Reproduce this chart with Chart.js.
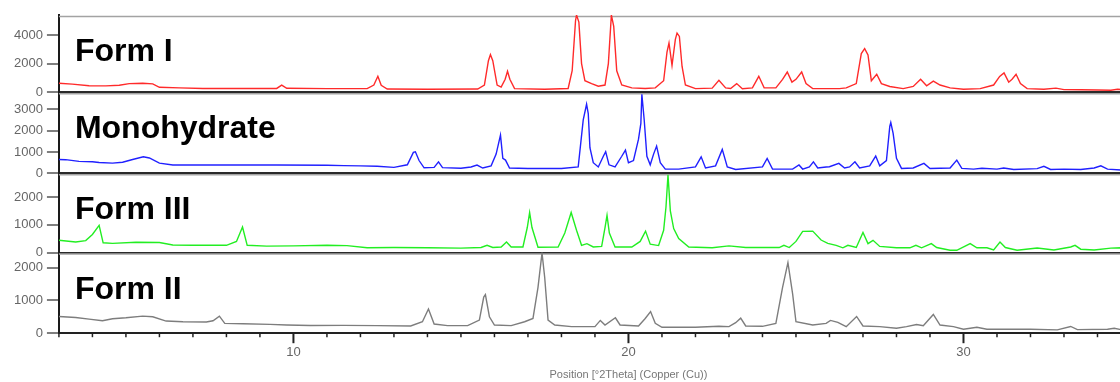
<!DOCTYPE html>
<html>
<head>
<meta charset="utf-8">
<title>XRPD patterns</title>
<script src="https://cdn.jsdelivr.net/npm/chart.js@4.4.1/dist/chart.umd.min.js"></script>
<style>
  html, body { margin: 0; padding: 0; background: #fff; overflow: hidden; }
  #wrap { width: 1200px; height: 382px; }
</style>
</head>
<body>
<div id="wrap"><canvas id="xrd" width="1200" height="382"></canvas></div>
<script>
'use strict';

// panel names, top to bottom
var formNames = ['Form I', 'Monohydrate', 'Form III', 'Form II'];

// counts axis tick labels per panel
var formITicks = [0, 2000, 4000];
var monoTicks = [0, 1000, 2000, 3000];
var formIIITicks = [0, 1000, 2000];
var formIITicks = [0, 1000, 2000];

// Form I (red)
var formITheta = [3.0, 3.4, 3.9, 4.4, 4.8, 5.1, 5.5, 5.8, 6.0, 6.6, 7.3, 8.5, 9.5, 9.65, 9.8, 11.0, 12.2, 12.4, 12.52, 12.62, 12.8, 14.0, 15.5, 15.7, 15.82, 15.88, 15.95, 16.08, 16.2, 16.32, 16.39, 16.46, 16.6, 17.5, 18.2, 18.32, 18.42, 18.45, 18.52, 18.6, 18.7, 18.9, 19.1, 19.3, 19.4, 19.49, 19.56, 19.65, 19.8, 20.1, 20.5, 20.8, 21.05, 21.15, 21.21, 21.3, 21.4, 21.45, 21.52, 21.6, 21.7, 22.0, 22.5, 22.7, 22.9, 23.05, 23.23, 23.4, 23.7, 23.89, 24.05, 24.4, 24.6, 24.74, 24.88, 25.0, 25.17, 25.3, 25.5, 26.3, 26.5, 26.8, 26.95, 27.05, 27.15, 27.25, 27.41, 27.55, 27.8, 28.2, 28.5, 28.72, 28.9, 29.1, 29.3, 29.6, 30.0, 30.5, 30.9, 31.08, 31.21, 31.35, 31.45, 31.57, 31.7, 31.9, 32.4, 32.76, 33.0, 33.5, 34.0, 34.4, 34.6, 34.9, 35.5, 36.2, 37.0];
var formICounts = [620, 560, 450, 440, 480, 600, 620, 580, 340, 300, 260, 260, 260, 490, 270, 250, 250, 500, 1110, 480, 220, 200, 220, 500, 2200, 2630, 2200, 500, 350, 900, 1460, 900, 250, 200, 260, 1500, 5000, 5400, 4900, 2000, 800, 600, 420, 500, 2000, 5400, 4600, 1500, 500, 300, 260, 300, 800, 2800, 3440, 1880, 3700, 4130, 3900, 1800, 500, 250, 280, 830, 300, 260, 600, 240, 300, 1110, 300, 300, 900, 1410, 700, 900, 1410, 600, 250, 250, 300, 600, 2700, 3050, 2600, 800, 1250, 600, 400, 250, 400, 900, 450, 770, 500, 300, 200, 250, 500, 1100, 1345, 700, 900, 1255, 600, 250, 200, 280, 180, 170, 150, 130, 200, 160, 150, 150, 150];

// Monohydrate (blue)
var monoTheta = [3.0, 3.2, 3.6, 4.0, 4.2, 4.6, 4.9, 5.2, 5.52, 5.7, 6.0, 6.4, 8.0, 9.5, 11.0, 11.5, 12.0, 12.5, 13.0, 13.4, 13.58, 13.64, 13.75, 13.9, 14.2, 14.33, 14.45, 15.0, 15.3, 15.48, 15.65, 15.9, 16.05, 16.18, 16.25, 16.33, 16.45, 17.0, 18.0, 18.5, 18.65, 18.75, 18.8, 18.85, 18.95, 19.1, 19.25, 19.32, 19.42, 19.6, 19.8, 19.91, 20.0, 20.15, 20.3, 20.37, 20.4, 20.47, 20.55, 20.65, 20.75, 20.84, 20.95, 21.1, 21.5, 22.0, 22.17, 22.3, 22.6, 22.8, 22.95, 23.2, 24.0, 24.14, 24.3, 24.9, 25.09, 25.2, 25.4, 25.52, 25.65, 25.9, 26.0, 26.28, 26.45, 26.6, 26.76, 26.9, 27.2, 27.38, 27.5, 27.7, 27.8, 27.83, 27.9, 28.0, 28.15, 28.5, 28.82, 29.0, 29.6, 29.8, 29.95, 30.3, 30.55, 31.0, 31.2, 31.5, 32.2, 32.4, 32.6, 33.0, 33.5, 33.9, 34.1, 34.3, 34.7, 35.5, 37.0];
var monoCounts = [650, 640, 560, 540, 510, 480, 520, 650, 775, 720, 480, 390, 390, 390, 380, 360, 350, 330, 280, 400, 980, 1010, 600, 260, 280, 540, 270, 240, 300, 390, 250, 350, 900, 1790, 700, 620, 250, 230, 230, 300, 2500, 3235, 2800, 1200, 500, 300, 800, 1010, 400, 300, 800, 1090, 500, 600, 1600, 2335, 3700, 2500, 800, 400, 900, 1275, 500, 200, 200, 300, 775, 250, 350, 1120, 300, 180, 300, 700, 200, 200, 390, 200, 300, 540, 250, 300, 310, 465, 250, 300, 540, 250, 350, 808, 350, 600, 2200, 2380, 1870, 700, 230, 250, 465, 230, 250, 620, 230, 200, 240, 200, 250, 180, 220, 330, 180, 200, 180, 250, 350, 200, 160, 160, 160];

// Form III (green)
var formIIITheta = [3.0, 3.5, 3.8, 4.0, 4.2, 4.32, 4.6, 5.3, 6.0, 6.4, 7.0, 8.0, 8.3, 8.48, 8.62, 9.2, 10.0, 11.0, 11.6, 12.2, 13.0, 14.0, 15.0, 15.6, 15.78, 15.95, 16.2, 16.36, 16.5, 16.85, 16.98, 17.05, 17.12, 17.3, 17.9, 18.1, 18.29, 18.45, 18.6, 18.76, 18.95, 19.2, 19.3, 19.36, 19.43, 19.6, 20.1, 20.35, 20.51, 20.65, 20.9, 21.05, 21.12, 21.18, 21.25, 21.35, 21.5, 21.8, 22.5, 23.0, 23.5, 24.5, 24.64, 24.8, 25.0, 25.2, 25.5, 25.75, 25.95, 26.2, 26.4, 26.55, 26.8, 27.0, 27.15, 27.3, 27.5, 28.0, 28.4, 28.58, 28.75, 29.04, 29.2, 29.6, 29.8, 30.2, 30.4, 30.7, 30.9, 31.09, 31.25, 31.6, 32.2, 32.7, 33.2, 33.33, 33.5, 33.9, 34.4, 34.7, 35.5, 37.0];
var formIIICounts = [440, 380, 430, 650, 980, 350, 330, 370, 360, 270, 260, 260, 400, 920, 260, 230, 240, 260, 250, 170, 180, 170, 160, 180, 260, 180, 200, 380, 200, 200, 900, 1440, 900, 190, 200, 700, 1440, 800, 260, 320, 200, 220, 900, 1340, 700, 200, 200, 400, 770, 300, 250, 800, 1640, 2800, 1500, 860, 500, 200, 170, 240, 180, 180, 260, 180, 400, 760, 770, 450, 330, 260, 170, 260, 180, 720, 320, 440, 220, 170, 170, 260, 170, 320, 180, 80, 80, 320, 170, 170, 90, 380, 180, 80, 160, 90, 200, 260, 120, 90, 160, 170, 160, 160];

// Form II (grey)
var formIITheta = [3.0, 3.5, 3.9, 4.3, 4.6, 5.0, 5.5, 5.8, 6.2, 6.7, 7.4, 7.6, 7.79, 7.95, 8.5, 9.3, 9.8, 10.5, 11.5, 12.5, 13.5, 13.85, 14.03, 14.2, 14.6, 15.2, 15.55, 15.68, 15.73, 15.85, 16.0, 16.5, 16.9, 17.15, 17.3, 17.42, 17.5, 17.6, 17.8, 18.3, 19.0, 19.16, 19.3, 19.61, 19.75, 20.3, 20.5, 20.66, 20.8, 21.0, 22.0, 22.7, 23.0, 23.2, 23.35, 23.5, 24.0, 24.4, 24.6, 24.76, 24.9, 25.0, 25.5, 25.9, 26.03, 26.25, 26.5, 26.81, 27.0, 27.5, 28.0, 28.3, 28.6, 28.8, 29.1, 29.3, 29.7, 30.0, 30.4, 30.7, 32.0, 32.8, 33.2, 33.4, 34.3, 34.5, 34.7, 35.5, 37.0];
var formIICounts = [510, 480, 430, 380, 440, 470, 520, 500, 370, 350, 340, 380, 520, 300, 290, 270, 250, 235, 240, 230, 220, 350, 740, 280, 230, 230, 400, 1100, 1175, 500, 250, 230, 350, 450, 1400, 2450, 1700, 400, 250, 200, 200, 390, 250, 470, 250, 220, 450, 660, 300, 180, 180, 210, 200, 320, 460, 220, 210, 300, 1400, 2150, 1200, 350, 250, 300, 390, 330, 200, 510, 220, 200, 150, 200, 266, 230, 572, 250, 200, 120, 180, 120, 120, 100, 205, 110, 120, 150, 110, 100, 100];

function toPoints(theta, counts) {
  var pts = [];
  for (var i = 0; i < theta.length; i++) {
    pts.push({ x: theta[i], y: counts[i] });
  }
  return pts;
}

function series(name, axis, color, theta, counts) {
  return {
    label: name,
    yAxisID: axis,
    data: toPoints(theta, counts),
    borderColor: color,
    borderWidth: 1.4,
    pointRadius: 0,
    tension: 0,
    fill: false
  };
}

function yScale(max, tickValues, stackWeight, order) {
  return {
    type: 'linear',
    position: 'left',
    stack: 'xrd',
    stackWeight: stackWeight,
    weight: order,
    min: 0,
    max: max,
    // fixed tick values, stepSize + max makes chart.js respace them
    afterBuildTicks: function (scale) {
      scale.ticks = tickValues.map(function (v) { return { value: v }; });
    },
    border: { display: true, color: '#1a1a1a', width: 2 },
    grid: {
      color: function (c) { return c.tick && c.tick.value === 0 ? '#2a2a2a' : 'rgba(0,0,0,0)'; },
      lineWidth: 2,
      tickLength: 12,
      tickColor: '#555',
      tickWidth: 1.5
    },
    ticks: {
      autoSkip: false,
      color: '#666',
      padding: 4,
      font: { family: 'Liberation Sans', size: 13 },
      callback: function (v) { return String(v); }
    }
  };
}

// ticks on the 2theta axis, long ones where there is a label; grey top edge per panel; the form names
var panelDecor = {
  id: 'panelDecor',
  beforeDatasetsDraw: function (chart) {
    var ctx = chart.ctx;
    var area = chart.chartArea;
    ctx.save();
    ctx.strokeStyle = '#a3a3a3';
    ctx.lineWidth = 1.5;
    chart.data.datasets.forEach(function (ds) {
      var ys = chart.scales[ds.yAxisID];
      ctx.beginPath();
      ctx.moveTo(area.left, ys.top + 1.5);
      ctx.lineTo(area.right, ys.top + 1.5);
      ctx.stroke();
    });
    ctx.restore();
  },
  afterDraw: function (chart) {
    var ctx = chart.ctx;
    var area = chart.chartArea;
    var xs = chart.scales.x;
    ctx.save();
    ctx.strokeStyle = '#222';
    xs.ticks.forEach(function (t) {
      var px = xs.getPixelForValue(t.value);
      var major = t.value % 10 === 0;
      ctx.lineWidth = major ? 2 : 1.5;
      ctx.beginPath();
      ctx.moveTo(px, xs.top);
      ctx.lineTo(px, xs.top + (major ? 10 : 4));
      ctx.stroke();
    });
    ctx.fillStyle = '#000';
    ctx.font = 'bold 32px "Liberation Sans", Arial, sans-serif';
    ctx.textBaseline = 'alphabetic';
    chart.data.datasets.forEach(function (ds) {
      var ys = chart.scales[ds.yAxisID];
      ctx.fillText(ds.label, area.left + 16, ys.top + 46);
    });
    ctx.restore();
  }
};

var ctx = document.getElementById('xrd');

var xrdChart = new Chart(ctx, {
  type: 'line',
  data: {
    datasets: [
      series(formNames[0], 'yI', '#ff2a2a', formITheta, formICounts),
      series(formNames[1], 'yMono', '#2020ff', monoTheta, monoCounts),
      series(formNames[2], 'yIII', '#22ee22', formIIITheta, formIIICounts),
      series(formNames[3], 'yII', '#7d7d7d', formIITheta, formIICounts)
    ]
  },
  options: {
    responsive: false,
    animation: false,
    layout: { padding: { left: 10, right: 2, top: 15, bottom: 0 } },
    plugins: {
      legend: { display: false },
      tooltip: { enabled: false }
    },
    scales: {
      x: {
        type: 'linear',
        min: 3,
        max: 37,
        border: { display: true, color: '#222', width: 2 },
        // tick marks are drawn by panelDecor, this only keeps room under the axis
        grid: { drawOnChartArea: false, drawTicks: true, tickLength: 11, tickColor: 'rgba(0,0,0,0)' },
        ticks: {
          stepSize: 1,
          autoSkip: false,
          maxRotation: 0,
          padding: 0,
          color: '#666',
          font: { family: 'Liberation Sans', size: 13 },
          callback: function (v) { return v % 10 === 0 ? String(v) : ''; }
        },
        title: {
          display: true,
          text: 'Position [°2Theta] (Copper (Cu))',
          color: '#777',
          font: { family: 'Liberation Sans', size: 11 },
          padding: { top: 9, bottom: 0 }
        }
      },
      yII: yScale(2460, formIITicks, 80.5, 1),
      yIII: yScale(2850, formIIITicks, 79, 2),
      yMono: yScale(3800, monoTicks, 81, 3),
      yI: yScale(5400, formITicks, 77, 4)
    }
  },
  plugins: [panelDecor]
});
</script>
</body>
</html>
